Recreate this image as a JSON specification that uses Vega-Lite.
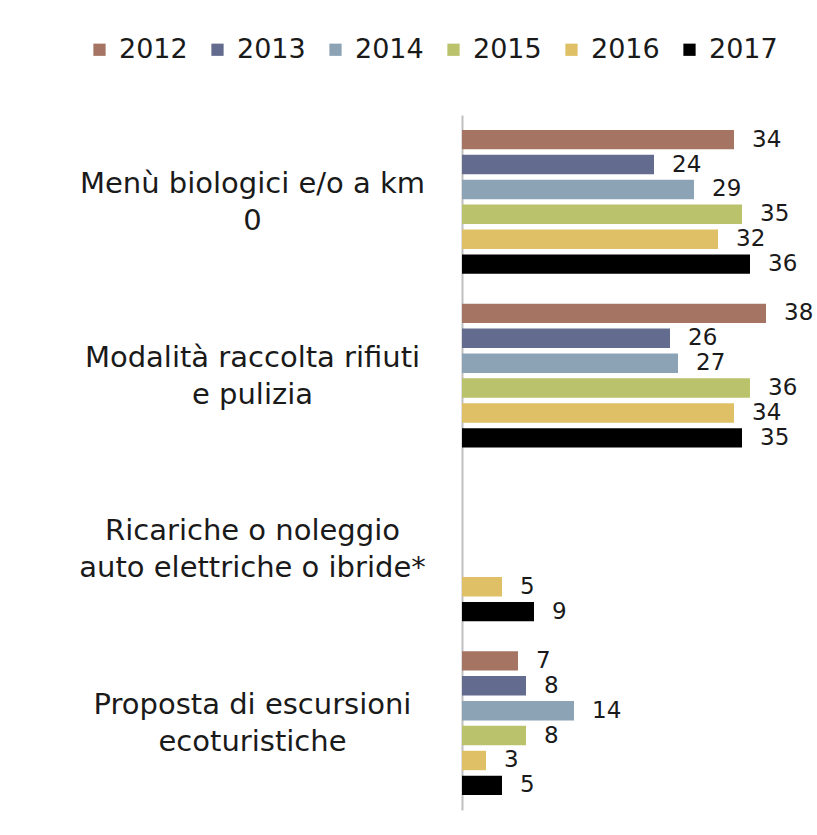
{
  "$schema": "https://vega.github.io/schema/vega-lite/v6.json",
  "width": 320,
  "height": 695,
  "autosize": {"type": "none"},
  "padding": {"left": 462, "top": 115, "right": 35, "bottom": 25},
  "background": "white",
  "config": {"view": {"stroke": null}, "font": "DejaVu Sans"},
  "data": {
    "values": [
      {"cat": "Menù biologici e/o a km|0", "year": "2012", "value": 34},
      {"cat": "Menù biologici e/o a km|0", "year": "2013", "value": 24},
      {"cat": "Menù biologici e/o a km|0", "year": "2014", "value": 29},
      {"cat": "Menù biologici e/o a km|0", "year": "2015", "value": 35},
      {"cat": "Menù biologici e/o a km|0", "year": "2016", "value": 32},
      {"cat": "Menù biologici e/o a km|0", "year": "2017", "value": 36},
      {"cat": "Modalità  raccolta rifiuti|e pulizia", "year": "2012", "value": 38},
      {"cat": "Modalità  raccolta rifiuti|e pulizia", "year": "2013", "value": 26},
      {"cat": "Modalità  raccolta rifiuti|e pulizia", "year": "2014", "value": 27},
      {"cat": "Modalità  raccolta rifiuti|e pulizia", "year": "2015", "value": 36},
      {"cat": "Modalità  raccolta rifiuti|e pulizia", "year": "2016", "value": 34},
      {"cat": "Modalità  raccolta rifiuti|e pulizia", "year": "2017", "value": 35},
      {"cat": "Ricariche o noleggio|auto elettriche o ibride*", "year": "2016", "value": 5},
      {"cat": "Ricariche o noleggio|auto elettriche o ibride*", "year": "2017", "value": 9},
      {"cat": "Proposta di escursioni|ecoturistiche", "year": "2012", "value": 7},
      {"cat": "Proposta di escursioni|ecoturistiche", "year": "2013", "value": 8},
      {"cat": "Proposta di escursioni|ecoturistiche", "year": "2014", "value": 14},
      {"cat": "Proposta di escursioni|ecoturistiche", "year": "2015", "value": 8},
      {"cat": "Proposta di escursioni|ecoturistiche", "year": "2016", "value": 3},
      {"cat": "Proposta di escursioni|ecoturistiche", "year": "2017", "value": 5}
    ]
  },
  "encoding": {
    "y": {
      "field": "cat",
      "type": "nominal",
      "sort": [
        "Menù biologici e/o a km|0",
        "Modalità  raccolta rifiuti|e pulizia",
        "Ricariche o noleggio|auto elettriche o ibride*",
        "Proposta di escursioni|ecoturistiche"
      ],
      "scale": {"paddingInner": 0.14, "paddingOuter": 0.07},
      "axis": {
        "title": null,
        "ticks": false,
        "domain": true,
        "domainColor": "#BFBFBF",
        "domainWidth": 2,
        "labelExpr": "split(datum.label, '|')",
        "labelAlign": "center",
        "labelBaseline": "middle",
        "labelPadding": 210,
        "labelOffset": -18,
        "labelLimit": 460,
        "labelFontSize": 29,
        "labelLineHeight": 37,
        "labelColor": "#1a1a1a",
        "labelFont": "DejaVu Sans"
      }
    },
    "yOffset": {
      "field": "year",
      "type": "nominal",
      "scale": {"domain": ["2012", "2013", "2014", "2015", "2016", "2017"], "paddingInner": 0.22, "paddingOuter": 0.11}
    },
    "x": {
      "field": "value",
      "type": "quantitative",
      "scale": {"domain": [0, 40], "nice": false},
      "axis": null
    }
  },
  "layer": [
    {
      "mark": {"type": "bar"},
      "encoding": {
        "color": {
          "field": "year",
          "type": "nominal",
          "scale": {
            "domain": ["2012", "2013", "2014", "2015", "2016", "2017"],
            "range": ["#A57462", "#636B8E", "#8CA3B6", "#BAC26C", "#DFC067", "#000000"]
          },
          "legend": {
            "title": null,
            "orient": "none",
            "direction": "horizontal",
            "legendX": -376,
            "legendY": -79,
            "symbolType": "square",
            "symbolSize": 150,
            "symbolStrokeWidth": 0,
            "labelFontSize": 27,
            "labelColor": "#1a1a1a",
            "labelOffset": 6,
            "columnPadding": 16,
            "labelFont": "DejaVu Sans"
          }
        }
      }
    },
    {
      "mark": {"type": "text", "align": "left", "baseline": "middle", "dx": 18, "fontSize": 23, "color": "#1a1a1a"},
      "encoding": {"text": {"field": "value", "type": "quantitative"}}
    }
  ]
}
